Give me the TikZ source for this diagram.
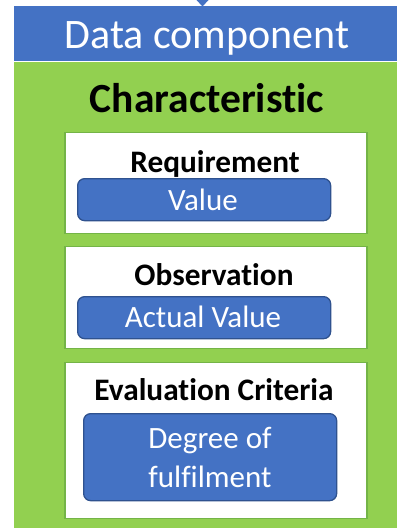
\documentclass[tikz,border=0pt]{standalone}
\usepackage{fontspec}
\setmainfont[Ligatures={NoCommon,NoRare,NoContextual}]{Carlito}
\definecolor{hdrblue}{HTML}{4472C4}
\definecolor{bodygreen}{HTML}{92D050}
\definecolor{edgegreen}{HTML}{74B447}
\definecolor{edgeblue}{HTML}{2F528F}
\tikzset{
  panel/.style={draw=none, fill=#1, anchor=north west, inner sep=0pt, outer sep=0pt},
  whitebox/.style={draw=edgegreen, line width=1.8pt, fill=white, anchor=north west, inner sep=0pt},
  valbox/.style={draw=edgeblue, line width=1.3pt, fill=hdrblue, rounded corners=7pt, anchor=north west, inner sep=0pt},
  hdrtext/.style={text=white, font=\fontsize{42}{46}\selectfont, anchor=base, inner sep=0pt},
  titletext/.style={text=black, font=\bfseries\fontsize{41.5}{46}\selectfont, anchor=base, inner sep=0pt},
  subtitle/.style={text=black, font=\bfseries\fontsize{31.3}{36}\selectfont, anchor=base, inner sep=0pt},
  valtext/.style={text=white, font=\fontsize{31}{39}\selectfont, anchor=base, inner sep=0pt, align=center},
}
\begin{document}
\begin{tikzpicture}[x=1pt,y=-1pt]
\useasboundingbox (0,0) rectangle (397,528);
% header and body
\node[panel=hdrblue, minimum width=383pt, minimum height=55pt] (hdr) at (14,6) {};
\node[panel=bodygreen, minimum width=383pt, minimum height=466pt] (body) at (14,62) {};
\fill[hdrblue] (196.5,0) -- (208.5,0) -- (202.5,6.5) -- cycle;
\node[hdrtext] (hdrlabel) at (207,48) {Data component};
\node[titletext] (title) at (207,112) {Characteristic};
% requirement
\node[whitebox, minimum width=302pt, minimum height=101pt] (reqbox) at (64,131.5) {};
\node[subtitle] (reqlabel) at (215,172) {Requirement};
\node[valbox, minimum width=253pt, minimum height=42pt] (reqval) at (77,178) {};
\node[valtext] (reqvaltext) at (203,210) {Value};
% observation
\node[whitebox, minimum width=302pt, minimum height=102pt] (obsbox) at (64,245.5) {};
\node[subtitle] (obslabel) at (214,285) {Observation};
\node[valbox, minimum width=253pt, minimum height=42pt] (obsval) at (77,296) {};
\node[valtext] (obsvaltext) at (203,327) {Actual Value};
% evaluation
\node[whitebox, minimum width=302pt, minimum height=156pt] (evalbox) at (64,361.5) {};
\node[subtitle] (evallabel) at (214,400) {Evaluation Criteria};
\node[valbox, minimum width=253pt, minimum height=87pt] (evalval) at (83,413) {};
\node[valtext] (evalvaltext1) at (210,448) {Degree of};
\node[valtext] (evalvaltext2) at (210,487) {fulfilment};
\end{tikzpicture}
\end{document}
